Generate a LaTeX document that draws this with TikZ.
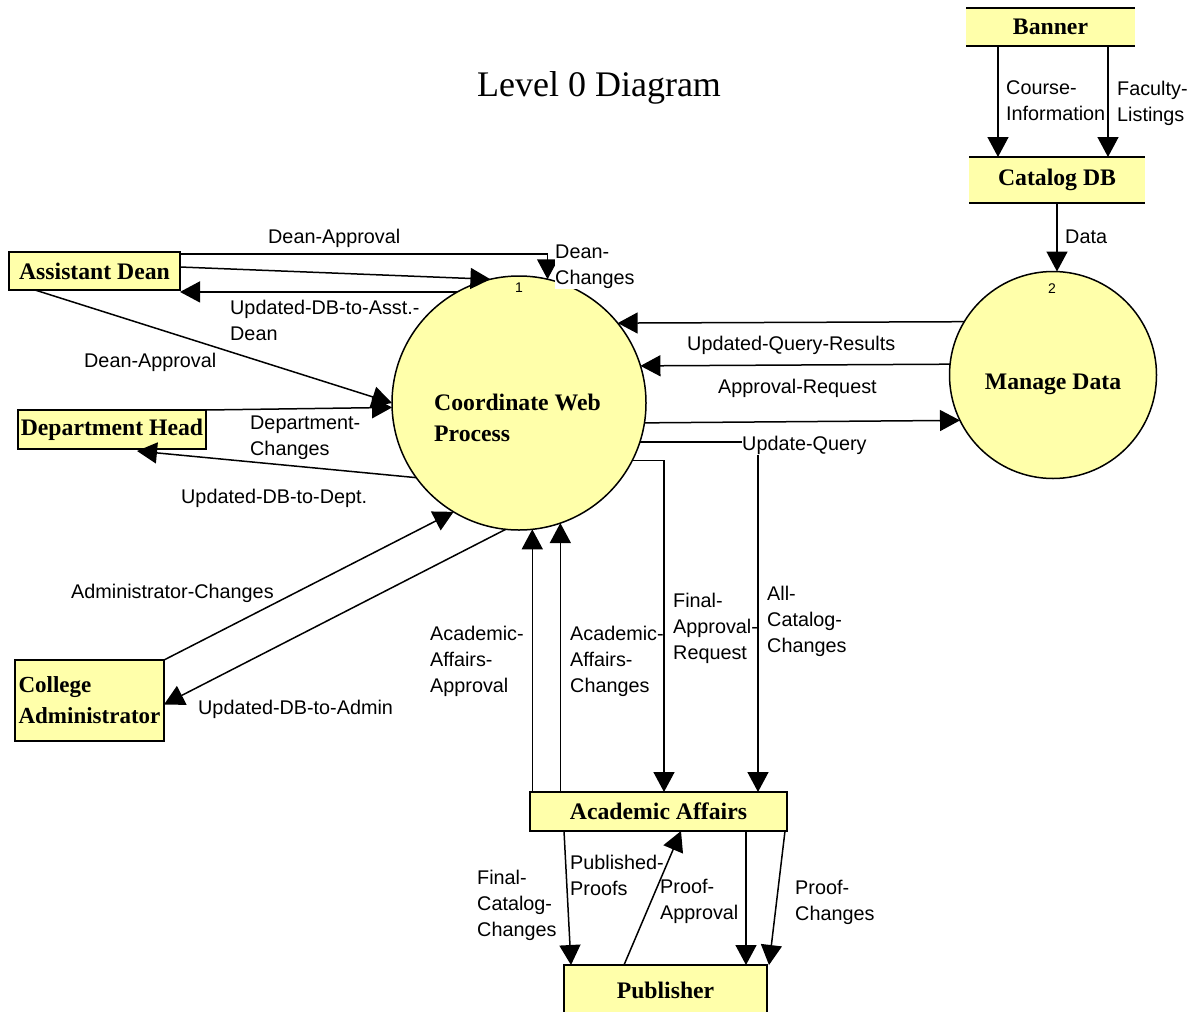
\documentclass[tikz,border=0pt]{standalone}
\usepackage{fontspec}
\setmainfont{Liberation Serif}
\newfontfamily\lblfont{Liberation Sans}
\usetikzlibrary{arrows.meta}

\definecolor{dfdyellow}{RGB}{255,255,170}

\begin{document}
\begin{tikzpicture}[x=1pt,y=-1pt,
  flow/.style={draw=black, line width=1.5pt, -{Triangle[length=20pt,width=21pt]}},
  plain/.style={draw=black, line width=1.5pt},
  bigbold/.style={font=\fontsize{23.7}{31}\selectfont\bfseries},
  entity/.style={bigbold, draw=black, line width=1.5pt, fill=dfdyellow,
                 inner sep=0pt, outer sep=0pt, align=left},
  store/.style={bigbold, fill=dfdyellow, inner sep=0pt, outer sep=0pt},
  proc/.style={circle, draw=black, line width=1.5pt, fill=dfdyellow,
               inner sep=0pt, outer sep=0pt},
  proctext/.style={bigbold, inner sep=0pt, align=left},
  procnum/.style={font=\lblfont\fontsize{14}{16}\selectfont, inner sep=0pt},
  lbl/.style={anchor=north west, inner sep=0pt, align=left,
              font=\lblfont\fontsize{19.8}{26}\selectfont},
]
\useasboundingbox (0,0) rectangle (1197,1012);
\clip (0,0) rectangle (1197,1012);

% title
\node[font=\fontsize{36}{40}\selectfont, inner sep=0pt] (title) at (599,88) {Level 0 Diagram};

% data stores
\node[store, minimum width=169pt, minimum height=38pt] (bn) at (1050.5,27) {Banner};
\draw[plain] (bn.north west) -- (bn.north east) (bn.south west) -- (bn.south east);
\node[store, minimum width=176pt, minimum height=46pt] (cdb) at (1057,180) {Catalog DB};
\draw[plain] (cdb.north west) -- (cdb.north east) (cdb.south west) -- (cdb.south east);

% processes
\node[proc, minimum size=254pt] (cwp) at (519,403) {};
\node[proctext, anchor=north west] (cwpt) at (434,394) {Coordinate Web\\Process};
\node[procnum] (n1) at (519,288) {1};
\node[proc, minimum size=207pt] (md) at (1053,375) {};
\node[proctext] (mdt) at (1053,384) {Manage Data};
\node[procnum] (n2) at (1052,289) {2};

% external entities
\node[entity, minimum width=171pt, minimum height=38pt] (ad) at (94.5,271) {Assistant Dean};
\node[entity, minimum width=188pt, minimum height=39pt] (dh) at (112,429.5) {Department Head};
\node[entity, minimum width=149pt, minimum height=81pt,
      font=\fontsize{23}{31}\selectfont\bfseries] (ca) at (89.5,700.5) {College\\Administrator};
\node[entity, minimum width=257pt, minimum height=39pt] (aa) at (658.5,811.5) {Academic Affairs};
\node[entity, minimum width=203pt, minimum height=50pt] (pub) at (665.5,990) {Publisher};

% Banner -> Catalog DB -> Manage Data
\draw[flow] ([xshift=32pt]bn.south west) -- ([xshift=32pt]bn.south west |- cdb.north);
\draw[flow] ([xshift=142pt]bn.south west) -- ([xshift=142pt]bn.south west |- cdb.north);
\draw[flow] (cdb.south) -- (cdb.south |- md.north);

% Assistant Dean flows
\draw[flow] ([yshift=-2pt]ad.north east) -| (cwp.77.7);
\draw[flow] ([yshift=4pt]ad.east) -- (cwp.103.2);
\draw[flow] (cwp.119.1) -- (ad.south east |- cwp.119.1);
\draw[flow] ([xshift=26pt]ad.south west) -- (cwp.180.5);

% Department Head flows
\draw[flow] (dh.north east) -- (cwp.182.7);
\draw[flow] (cwp.216.1) -- ([xshift=119pt,yshift=-2pt]dh.south west);

% College Administrator flows
\draw[flow] (ca.north east) -- (cwp.239.4);
\draw[flow] (cwp.264.6) -- ([yshift=-4pt]ca.east);

% Manage Data flows
\draw[flow] (md.149.4) -- (cwp.39.6);
\draw[flow] (md.174.5) -- (cwp.17.4);
\draw[flow] (cwp.351.4) -- (md.206.9);

% Academic Affairs flows
\draw[flow] (cwp.276.3 |- aa.north) -- (cwp.276.3);
\draw[flow] (cwp.289.8 |- aa.north) -- (cwp.289.8);
\draw[flow] (cwp.333.3) -| ([xshift=134pt]aa.north west);
\draw[flow] (cwp.342.5) -| ([xshift=228pt]aa.north west);

% Publisher flows
\draw[flow] ([xshift=34pt]aa.south west) -- ([xshift=7pt]pub.north west);
\draw[flow] ([xshift=60pt]pub.north west) -- ([xshift=151pt]aa.south west);
\draw[flow] ([xshift=216pt]aa.south west) -- ([xshift=182pt]pub.north west);
\draw[flow] ([xshift=255pt]aa.south west) -- ([xshift=2pt]pub.north east);

% flow labels
\node[lbl] (l1) at (1006,80) {Course-\\Information};
\node[lbl] (l2) at (1117,81) {Faculty-\\Listings};
\node[lbl] (l3) at (1065,230) {Data};
\node[lbl] (l4) at (268,229) {Dean-Approval};
\node[lbl, fill=white] (l5) at (555,245) {Dean-\\Changes};
\node[lbl] (l6) at (230,300) {Updated-DB-to-Asst.-\\Dean};
\node[lbl] (l7) at (84,353) {Dean-Approval};
\node[lbl] (l8) at (250,416) {Department-\\Changes};
\node[lbl] (l9) at (181,489) {Updated-DB-to-Dept.};
\node[lbl] (l10) at (71,584) {Administrator-Changes};
\node[lbl] (l11) at (198,700) {Updated-DB-to-Admin};
\node[lbl] (l12) at (430,626) {Academic-\\Affairs-\\Approval};
\node[lbl] (l13) at (570,626) {Academic-\\Affairs-\\Changes};
\node[lbl] (l14) at (673,593) {Final-\\Approval-\\Request};
\node[lbl] (l15) at (767,586) {All-\\Catalog-\\Changes};
\node[lbl] (l16) at (687,336) {Updated-Query-Results};
\node[lbl] (l17) at (718,379) {Approval-Request};
\node[lbl, fill=white] (l18) at (742,436) {Update-Query};
\node[lbl] (l19) at (477,870) {Final-\\Catalog-\\Changes};
\node[lbl] (l20) at (570,855) {Published-\\Proofs};
\node[lbl] (l21) at (660,879) {Proof-\\Approval};
\node[lbl] (l22) at (795,880) {Proof-\\Changes};
\end{tikzpicture}
\end{document}
